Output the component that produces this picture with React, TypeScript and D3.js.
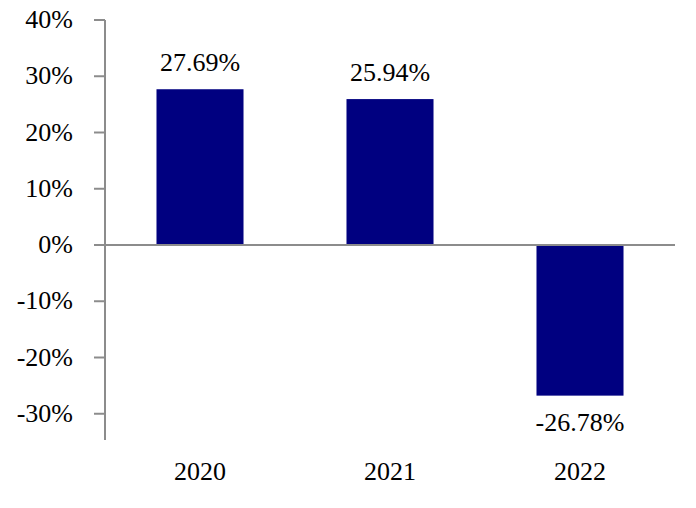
import React from "react";
import * as d3 from "d3";

const categories = ["2020", "2021", "2022"];
const values = [27.69, 25.94, -26.78];
const valueLabels = ["27.69%", "25.94%", "-26.78%"];
const yTicks = [40, 30, 20, 10, 0, -10, -20, -30];

const W = 696;
const H = 508;
const left = 105;
const right = 675;
const top = 20;
const bottom = 440;

export default function App() {
  const y = d3.scaleLinear().domain([0, 40]).range([245, top]);
  const x = d3
    .scaleBand<string>()
    .domain(categories)
    .range([left, right])
    .paddingInner(0.542)
    .paddingOuter(0.271);
  const font = "'Liberation Serif', 'Times New Roman', serif";
  const axisColor = "#8c8c8c";
  const fs = 26;
  return (
    <svg
      width={W}
      height={H}
      style={{ position: "absolute", left: 0, top: 0, background: "#fff" }}
      fontFamily={font}
    >
      {values.map((v, i) => {
        const c = categories[i];
        const y0 = y(0);
        const yv = y(v);
        const bx = x(c)!;
        return (
          <g key={c}>
            <rect
              x={bx}
              y={Math.min(y0, yv)}
              width={x.bandwidth()}
              height={Math.abs(yv - y0)}
              fill="#000080"
            />
            <text
              x={bx + x.bandwidth() / 2}
              y={v >= 0 ? yv - 18 : yv + 35}
              textAnchor="middle"
              fontSize={fs}
              fill="#000"
            >
              {valueLabels[i]}
            </text>
            <text
              x={bx + x.bandwidth() / 2}
              y={480}
              textAnchor="middle"
              fontSize={fs}
              fill="#000"
            >
              {c}
            </text>
          </g>
        );
      })}
      <line x1={left} x2={right} y1={y(0)} y2={y(0)} stroke={axisColor} strokeWidth={2} />
      <line x1={left} x2={left} y1={top} y2={bottom} stroke={axisColor} strokeWidth={2} />
      {yTicks.map((t) => (
        <g key={t}>
          <line x1={left - 11} x2={left} y1={y(t)} y2={y(t)} stroke={axisColor} strokeWidth={2} />
          <text x={73} y={y(t) + 8} textAnchor="end" fontSize={fs} fill="#000">
            {`${t}%`}
          </text>
        </g>
      ))}
    </svg>
  );
}
